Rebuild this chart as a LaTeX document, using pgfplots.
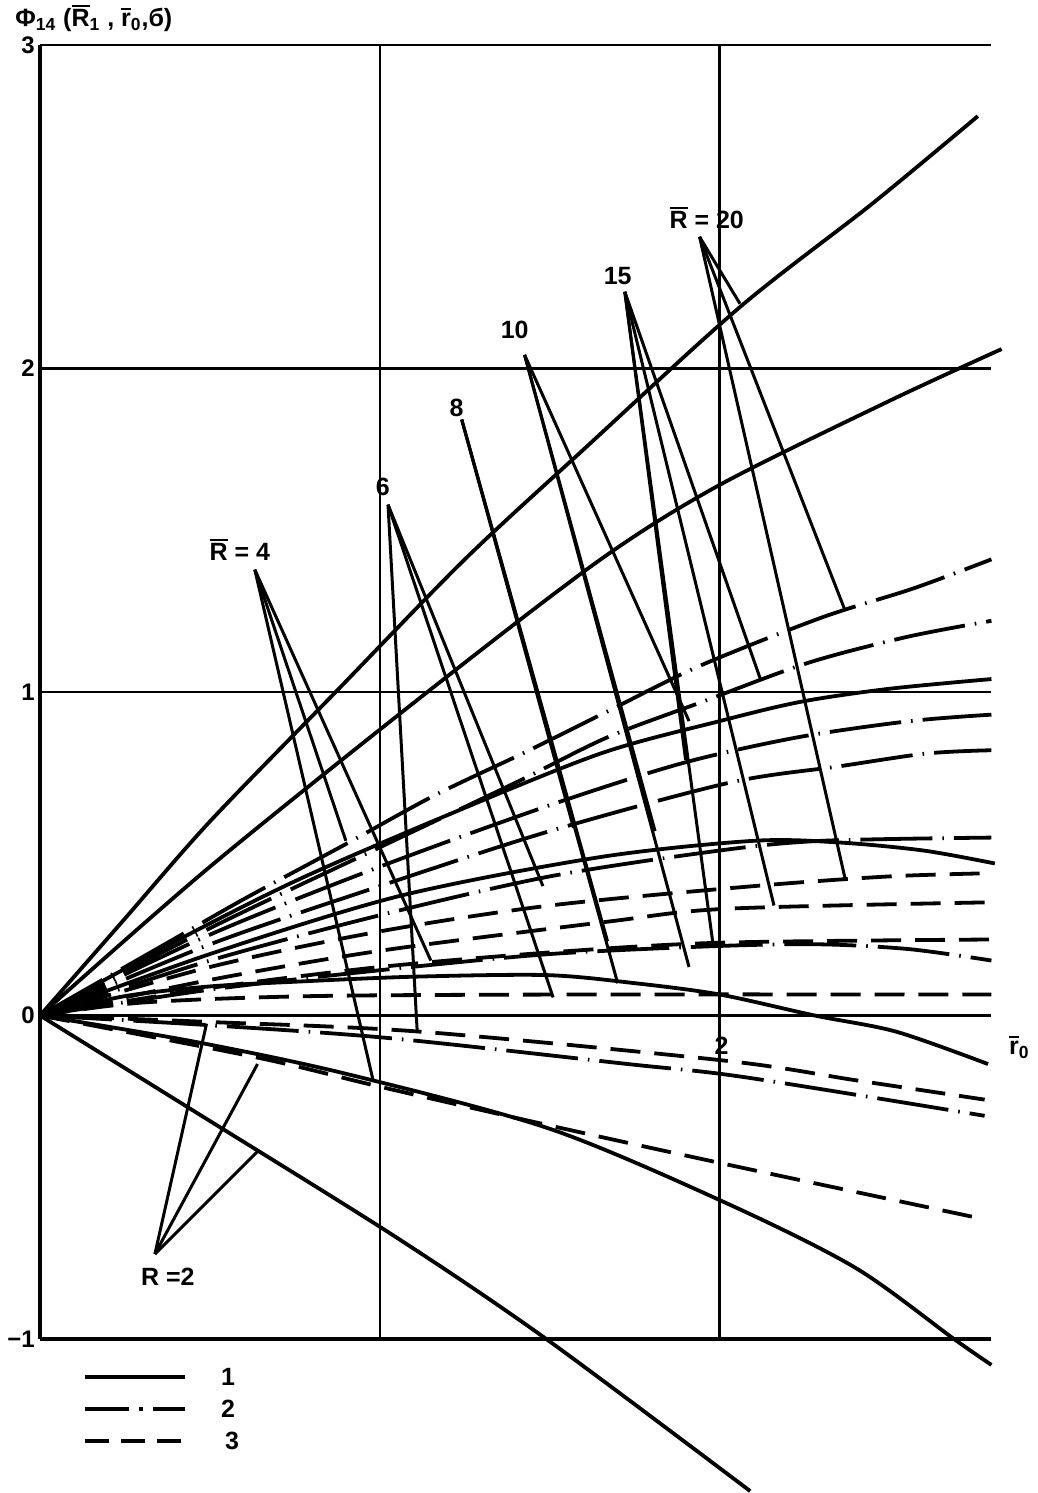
\documentclass[border=0pt]{standalone}
\usepackage{fontspec}
\setmainfont{Liberation Sans}
\usepackage{pgfplots}
\pgfplotsset{compat=1.18}

% letter with a bar over it
\newcommand{\ob}[1]{\vbox{\hrule height 0.9pt\kern1.3pt\hbox{#1}}}

\pgfplotsset{
  t1/.style={black, line width=1.9pt, smooth, no markers},
  t2/.style={black, line width=1.9pt, smooth, no markers, dash pattern=on 36pt off 5pt on 0.8pt off 5pt},
  t3/.style={black, line width=1.9pt, smooth, no markers, dash pattern=on 15pt off 7pt},
}
\tikzset{
  lead/.style={line width=1.5pt},
  lab/.style={font=\bfseries\fontsize{12.5}{14}\selectfont, inner sep=0pt},
}

\begin{document}
\begin{tikzpicture}
\begin{axis}[
  scale only axis, width=476pt, height=647.5pt,
  xmin=0, xmax=2.8, ymin=-1, ymax=3,
  axis lines=left, axis line style={-, line width=1.6pt},
  xtick={1,2}, xticklabels={},
  ytick={-1,0,1,2,3}, yticklabels={−1,0,1,2,3},
  major tick length=0pt,
  yticklabel style={font=\bfseries\fontsize{12}{14}\selectfont, inner sep=1.5pt, xshift=-1pt},
  grid=major, grid style={black, line width=1.3pt},
  clip=false,
]
% solid, type 1
\addplot[t1] coordinates {(0,0) (0.25,0.3) (0.5,0.6) (0.87,1.0) (1.25,1.41) (1.6,1.75) (2.06,2.19) (2.45,2.51) (2.76,2.78)};
\addplot[t1] coordinates {(0,0) (0.5,0.46) (1.14,1.0) (1.65,1.41) (2.0,1.64) (2.5,1.9) (2.83,2.06)};
\addplot[t1] coordinates {(0,0) (0.4,0.23) (0.76,0.42) (1.2,0.62) (1.65,0.81) (2.0,0.91) (2.24,0.97) (2.5,1.01) (2.8,1.04)};
\addplot[t1] coordinates {(0,0) (0.5,0.19) (1.06,0.37) (1.65,0.49) (2.1,0.54) (2.35,0.535) (2.6,0.51) (2.81,0.47)};
\addplot[t1] coordinates {(0,0) (0.25,0.06) (0.5,0.09) (0.76,0.105) (1.1,0.12) (1.49,0.125) (1.75,0.1) (2.0,0.065) (2.28,0) (2.52,-0.05) (2.79,-0.15)};
\addplot[t1] coordinates {(0,0) (0.45,-0.08) (0.9,-0.18) (1.5,-0.35) (2.02,-0.58) (2.4,-0.78) (2.69,-1.0) (2.8,-1.08)};
\addplot[t1] coordinates {(0,0) (0.46,-0.3) (1.04,-0.68) (1.49,-1.0) (2.09,-1.47)};
% dash-dot, type 2
\addplot[t2] coordinates {(0,0) (0.2,0.12) (0.4,0.24) (0.6,0.36) (0.9,0.53) (1.16,0.68) (1.42,0.81) (1.67,0.94) (1.94,1.08) (2.3,1.23) (2.57,1.32) (2.8,1.41)};
\addplot[t2] coordinates {(0,0) (0.5,0.27) (1.0,0.52) (1.4,0.72) (1.67,0.86) (1.95,0.97) (2.26,1.09) (2.55,1.17) (2.8,1.22)};
\addplot[t2] coordinates {(0,0) (0.5,0.25) (1.0,0.46) (1.5,0.65) (1.89,0.78) (2.23,0.86) (2.56,0.91) (2.8,0.93)};
\addplot[t2] coordinates {(0,0) (0.5,0.22) (1.0,0.4) (1.5,0.57) (2.03,0.72) (2.35,0.77) (2.61,0.81) (2.8,0.82)};
\addplot[t2] coordinates {(0,0) (0.5,0.17) (1.0,0.31) (1.5,0.43) (2.0,0.51) (2.3,0.54) (2.8,0.55)};
\addplot[t2] coordinates {(0,0) (0.5,0.08) (1.0,0.14) (1.5,0.19) (2.0,0.215) (2.3,0.22) (2.56,0.205) (2.8,0.17)};
\addplot[t2] coordinates {(0,0) (0.5,-0.03) (1.03,-0.07) (1.73,-0.15) (2.07,-0.19) (2.78,-0.31)};
% dashed, type 3
\addplot[t3] coordinates {(0,0) (0.5,0.15) (1.0,0.26) (1.5,0.34) (2.1,0.4) (2.5,0.43) (2.8,0.44)};
\addplot[t3] coordinates {(0,0) (0.5,0.11) (1.0,0.2) (1.67,0.29) (2.02,0.33) (2.8,0.35)};
\addplot[t3] coordinates {(0,0) (0.5,0.085) (1.0,0.15) (1.5,0.195) (2.0,0.225) (2.8,0.235)};
\addplot[t3] coordinates {(0,0) (0.3,0.04) (0.8,0.06) (1.6,0.065) (2.8,0.065)};
\addplot[t3] coordinates {(0,0) (0.5,-0.02) (1.12,-0.05) (2.02,-0.14) (2.4,-0.2) (2.78,-0.26)};
\addplot[t3] coordinates {(0,0) (0.64,-0.13) (1.0,-0.22) (1.5,-0.34) (2.02,-0.46) (2.78,-0.63)};

% leaders
\draw[lead] (axis cs:1.941,2.407) -- (axis cs:2.06,2.20);
\draw[lead] (axis cs:1.941,2.407) -- (axis cs:2.37,1.25);
\draw[lead] (axis cs:1.941,2.407) -- (axis cs:2.37,0.42);
\draw[lead] (axis cs:1.721,2.237) -- (axis cs:2.12,1.04);
\draw[lead] (axis cs:1.721,2.237) -- (axis cs:1.9,0.79);
\draw[lead] (axis cs:1.721,2.237) -- (axis cs:2.16,0.34);
\draw[lead] (axis cs:1.721,2.237) -- (axis cs:1.98,0.225);
\draw[lead] (axis cs:1.426,2.042) -- (axis cs:1.91,0.91);
\draw[lead] (axis cs:1.426,2.042) -- (axis cs:1.81,0.57);
\draw[lead] (axis cs:1.426,2.042) -- (axis cs:1.91,0.15);
\draw[lead] (axis cs:1.241,1.842) -- (axis cs:1.57,0.58);
\draw[lead] (axis cs:1.241,1.842) -- (axis cs:1.67,0.23);
\draw[lead] (axis cs:1.241,1.842) -- (axis cs:1.7,0.10);
\draw[lead] (axis cs:1.024,1.579) -- (axis cs:1.48,0.40);
\draw[lead] (axis cs:1.024,1.579) -- (axis cs:1.51,0.056);
\draw[lead] (axis cs:1.024,1.579) -- (axis cs:1.11,-0.05);
\draw[lead] (axis cs:0.632,1.378) -- (axis cs:0.9,0.54);
\draw[lead] (axis cs:0.632,1.378) -- (axis cs:1.15,0.17);
\draw[lead] (axis cs:0.632,1.378) -- (axis cs:0.98,-0.2);
\draw[lead] (axis cs:0.338,-0.737) -- (axis cs:0.49,-0.025);
\draw[lead] (axis cs:0.338,-0.737) -- (axis cs:0.64,-0.15);
\draw[lead] (axis cs:0.338,-0.737) -- (axis cs:0.64,-0.42);

% labels
\node[lab, anchor=west] at (axis cs:-0.074,3.083) {Φ\textsubscript{14} (\ob{R}\textsubscript{1} , \ob{r}\textsubscript{0},б)};
\node[lab] at (axis cs:1.962,2.466) {\ob{R} = 20};
\node[lab] at (axis cs:1.70,2.286) {15};
\node[lab] at (axis cs:1.397,2.12) {10};
\node[lab] at (axis cs:1.226,1.879) {8};
\node[lab] at (axis cs:1.009,1.635) {6};
\node[lab] at (axis cs:0.588,1.44) {\ob{R} = 4};
\node[lab] at (axis cs:0.376,-0.809) {R =2};
\node[lab] at (axis cs:2.006,-0.095) {2};
\node[lab] at (axis cs:2.882,-0.098) {\ob{r}\textsubscript{0}};

% legend
\draw[line width=1.9pt] (axis cs:0.132,-1.117) -- (axis cs:0.426,-1.117);
\draw[line width=1.9pt, dash pattern=on 22pt off 5pt on 2pt off 5pt] (axis cs:0.132,-1.216) -- (axis cs:0.426,-1.216);
\draw[line width=1.9pt, dash pattern=on 12pt off 6pt] (axis cs:0.132,-1.315) -- (axis cs:0.426,-1.315);
\node[lab] at (axis cs:0.553,-1.117) {1};
\node[lab] at (axis cs:0.553,-1.216) {2};
\node[lab] at (axis cs:0.565,-1.315) {3};

\path (axis cs:-0.118,3.139) rectangle (axis cs:2.935,-1.473);
\end{axis}
\end{tikzpicture}
\end{document}
